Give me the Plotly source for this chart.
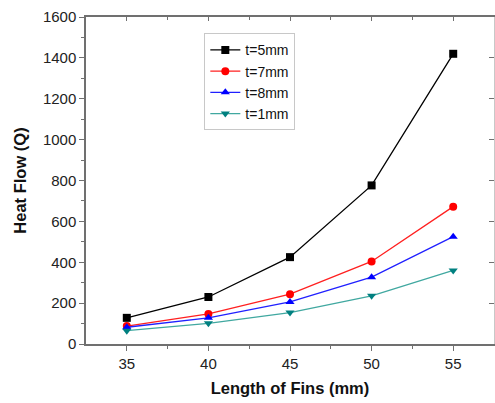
import plotly.graph_objects as go

lengths = [35, 40, 45, 50, 55]
t5 = [128, 230, 425, 776, 1420]
t7 = [88, 147, 244, 404, 672]
t8 = [82, 128, 206, 327, 525]
t1 = [65, 101, 154, 236, 360]
names = ["t=5mm", "t=7mm", "t=8mm", "t=1mm"]

series = [
    (t5, "#000000", "#000000", "square"),
    (t7, "#ff2020", "#ff0000", "circle"),
    (t8, "#2020ff", "#0000ff", "triangle-up"),
    (t1, "#40a8a0", "#008080", "triangle-down"),
]

fig = go.Figure()
for (vals, lc, mc, sym), nm in zip(series, names):
    fig.add_trace(go.Scatter(
        x=lengths, y=vals, name=nm, mode="lines+markers",
        line=dict(color=lc, width=1.3),
        marker=dict(symbol=sym, size=8, color=mc),
    ))

axis_color = "#707070"
font = "Liberation Sans, Arial, sans-serif"

fig.update_layout(
    width=495, height=403,
    margin=dict(l=86, r=1, t=17, b=59),
    plot_bgcolor="white", paper_bgcolor="white",
    font=dict(family=font, size=13, color="#222"),
    showlegend=True,
    legend=dict(
        x=0.29, y=0.95, xanchor="left", yanchor="top",
        bgcolor="white", bordercolor="#c8c8c8", borderwidth=1,
        font=dict(size=14, color="#111"),
        tracegroupgap=0, itemwidth=30,
    ),
    xaxis=dict(
        range=[32.5, 57.5], tickvals=lengths,
        ticks="outside", ticklen=5, tickwidth=1.3, tickcolor=axis_color,
        minor=dict(tickvals=[37.5, 42.5, 47.5, 52.5], ticks="outside", ticklen=3, tickcolor=axis_color, tickwidth=1),
        showline=True, linecolor=axis_color, linewidth=1.5,
        showgrid=False, zeroline=False,
        title=dict(text="<b>Length of Fins (mm)</b>", font=dict(size=16.5, color="#111"), standoff=12),
        tickfont=dict(size=15, color="#222"),
    ),
    yaxis=dict(
        range=[0, 1600], tickvals=[0, 200, 400, 600, 800, 1000, 1200, 1400, 1600],
        ticks="outside", ticklen=5, tickwidth=1.3, tickcolor=axis_color,
        minor=dict(tickvals=[100, 300, 500, 700, 900, 1100, 1300, 1500], ticks="outside", ticklen=3, tickcolor=axis_color, tickwidth=1),
        showline=True, linecolor=axis_color, linewidth=1.5,
        showgrid=False, zeroline=False,
        title=dict(text="<b>Heat Flow (Q)</b>", font=dict(size=16.5, color="#111"), standoff=12),
        tickfont=dict(size=15, color="#222"),
    ),
    xaxis2=dict(
        overlaying="x", side="top", range=[32.5, 57.5], tickvals=lengths,
        ticks="inside", ticklen=4, tickwidth=1.2, tickcolor=axis_color,
        minor=dict(tickvals=[37.5, 42.5, 47.5, 52.5], ticks="inside", ticklen=3, tickcolor=axis_color),
        showticklabels=False, showline=True, linecolor=axis_color, linewidth=1.5,
        showgrid=False, zeroline=False,
    ),
    yaxis2=dict(
        overlaying="y", side="right", range=[0, 1600],
        tickvals=[0, 200, 400, 600, 800, 1000, 1200, 1400, 1600],
        ticks="inside", ticklen=5, tickwidth=1.2, tickcolor=axis_color,
        showticklabels=False, showline=True, linecolor="#c8c8c8", linewidth=1,
        showgrid=False, zeroline=False,
    ),
)
# invisible trace to activate the mirrored axes
fig.add_trace(go.Scatter(x=[None], y=[None], xaxis="x2", yaxis="y2", showlegend=False, hoverinfo="skip"))

fig.write_html("out.html")
